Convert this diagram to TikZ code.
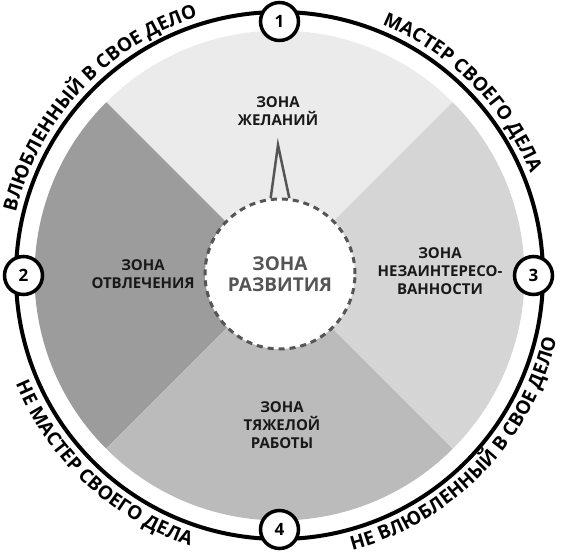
\documentclass[tikz,border=0pt]{standalone}
\usepackage{fontspec}
\setmainfont{Open Sans}
\usetikzlibrary{decorations.text}
\definecolor{zoneA}{RGB}{235,235,235}
\definecolor{zoneB}{RGB}{156,156,156}
\definecolor{zoneC}{RGB}{187,187,187}
\definecolor{zoneD}{RGB}{213,213,213}
\definecolor{strich}{RGB}{85,85,85}
\newcommand{\arcfont}{\fontsize{19}{19}\selectfont\bfseries}

\begin{document}
\begin{tikzpicture}[x=1pt,y=1pt,
	zone/.style={align=center,font=\fontsize{15}{18}\selectfont\bfseries,text=black!90},
	badge/.style={draw,circle,fill=white,line width=3.5pt,minimum size=38pt,inner sep=0pt,font=\fontsize{17}{17}\selectfont\bfseries},
	arctext/.style={decorate,decoration={text along path,text align=center,text={|\arcfont|#1}}}]
	\useasboundingbox (-279.5,-283.5) rectangle (282.5,275.5);
	% vier Zonen
	\fill[zoneA] (0,0) -- (45:245) arc[start angle=45,end angle=135,radius=245] -- cycle;
	\fill[zoneB] (0,0) -- (135:245) arc[start angle=135,end angle=225,radius=245] -- cycle;
	\fill[zoneC] (0,0) -- (225:245) arc[start angle=225,end angle=315,radius=245] -- cycle;
	\fill[zoneD] (0,0) -- (315:245) arc[start angle=315,end angle=405,radius=245] -- cycle;
	\draw[line width=4pt] (0,0) circle (263.5);
	\node[badge] (n1) at (90:254) {1};
	\node[badge] (n2) at (180:256) {2};
	\node[badge] (n3) at (0:254) {3};
	\node[badge] (n4) at (270:254) {4};
	% Beschriftung aussen
	\path[arctext={ВЛЮБЛЕННЫЙ В СВОЕ ДЕЛО}] (177:271) arc[start angle=177,end angle=97,radius=271];
	\path[arctext={МАСТЕР СВОЕГО ДЕЛА}] (85:271) arc[start angle=85,end angle=5,radius=271];
	\path[arctext={НЕ МАСТЕР СВОЕГО ДЕЛА}] (187:285) arc[start angle=187,end angle=267,radius=285];
	\path[arctext={НЕ ВЛЮБЛЕННЫЙ В СВОЕ ДЕЛО}] (276:284) arc[start angle=276,end angle=356,radius=284];
	\node[zone] (wunsch) at (-1.5,164.5) {ЗОНА\\ЖЕЛАНИЙ};
	\node[zone] (ablenk) at (-136.5,1.5) {ЗОНА\\ОТВЛЕЧЕНИЯ};
	\node[zone] (desint) at (160.5,4.5) {ЗОНА\\НЕЗАИНТЕРЕСО-\\ВАННОСТИ};
	\node[zone] (arbeit) at (2.5,-149.5) {ЗОНА\\ТЯЖЕЛОЙ\\РАБОТЫ};
	\node[draw=strich,circle,fill=white,line width=3pt,dash pattern=on 6pt off 5pt,minimum size=150pt,
		align=center,text=strich,font=\fontsize{19}{21}\selectfont\bfseries] (entw) at (0.5,1.5) {ЗОНА\\РАЗВИТИЯ};
	\coordinate (spitze) at (-1.5,130.5);
	\draw[strich,line width=2.5pt] (entw.97) -- (spitze) -- (entw.83);
\end{tikzpicture}
\end{document}
